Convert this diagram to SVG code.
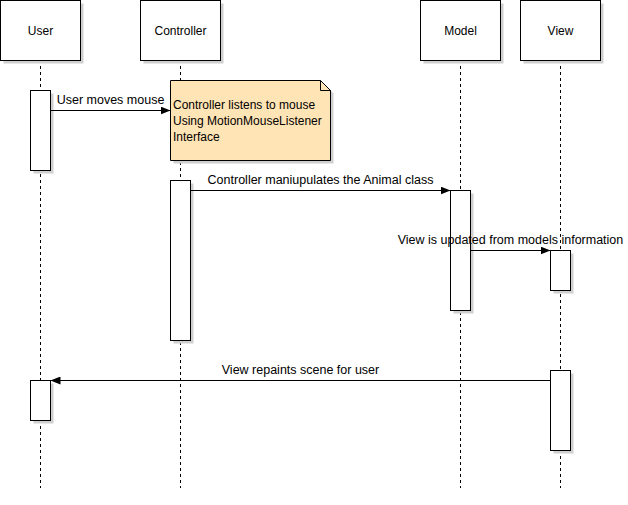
<svg xmlns="http://www.w3.org/2000/svg" width="628" height="505" viewBox="0 0 628 505">
<style>
text{font-family:"Liberation Sans",Arial,sans-serif;font-size:12px;fill:#000}
.c{text-anchor:middle}
.lbl{font-size:12.5px}
.box{fill:#fff;stroke:#000;stroke-width:1}
.sh{fill:#cfcfcf}
.life{stroke:#000;stroke-width:1;stroke-dasharray:3 3;fill:none}
.msg{stroke:#000;stroke-width:1;fill:none;marker-end:url(#arr)}
</style>
<defs>
<marker id="arr" viewBox="0 0 10 8" refX="10" refY="4" markerWidth="10" markerHeight="8" markerUnits="userSpaceOnUse" orient="auto">
<path d="M0,0 L10,4 L0,8 z" fill="#000"/>
</marker>
</defs>
<g id="lifelines">
<line class="life" x1="40.5" y1="60" x2="40.5" y2="488"/>
<line class="life" x1="180.5" y1="60" x2="180.5" y2="488"/>
<line class="life" x1="460.5" y1="60" x2="460.5" y2="488"/>
<line class="life" x1="560.5" y1="60" x2="560.5" y2="488"/>
</g>
<g id="user">
<rect class="sh" x="3.5" y="3.5" width="80" height="60"/>
<rect class="box" x="0.5" y="0.5" width="80" height="60"/>
<text class="c" x="40.5" y="34.5">User</text>
</g>
<g id="controller">
<rect class="sh" x="143.5" y="3.5" width="80" height="60"/>
<rect class="box" x="140.5" y="0.5" width="80" height="60"/>
<text class="c" x="180.5" y="34.5">Controller</text>
</g>
<g id="model">
<rect class="sh" x="423.5" y="3.5" width="80" height="60"/>
<rect class="box" x="420.5" y="0.5" width="80" height="60"/>
<text class="c" x="460.5" y="34.5">Model</text>
</g>
<g id="view">
<rect class="sh" x="523.5" y="3.5" width="80" height="60"/>
<rect class="box" x="520.5" y="0.5" width="80" height="60"/>
<text class="c" x="560.5" y="34.5">View</text>
</g>
<g id="user-act1">
<rect class="sh" x="33.5" y="93.5" width="20" height="80"/>
<rect class="box" x="30.5" y="90.5" width="20" height="80"/>
</g>
<g id="user-act2">
<rect class="sh" x="33.5" y="383.5" width="20" height="40"/>
<rect class="box" x="30.5" y="380.5" width="20" height="40"/>
</g>
<g id="controller-act">
<rect class="sh" x="173.5" y="183.5" width="20" height="160"/>
<rect class="box" x="170.5" y="180.5" width="20" height="160"/>
</g>
<g id="model-act">
<rect class="sh" x="453.5" y="193.5" width="20" height="120"/>
<rect class="box" x="450.5" y="190.5" width="20" height="120"/>
</g>
<g id="view-act1">
<rect class="sh" x="553.5" y="253.5" width="20" height="40"/>
<rect class="box" x="550.5" y="250.5" width="20" height="40"/>
</g>
<g id="view-act2">
<rect class="sh" x="553.5" y="373.5" width="20" height="80"/>
<rect class="box" x="550.5" y="370.5" width="20" height="80"/>
</g>
<g id="note">
<path d="M173.5,83.5 H323.5 L333.5,93.5 V163.5 H173.5 Z" fill="#cfcfcf"/>
<path d="M170.5,80.5 H320.5 L330.5,90.5 V160.5 H170.5 Z" fill="#ffe4b5" stroke="#000"/>
<path d="M320.5,80.5 V90.5 H330.5" fill="none" stroke="#000"/>
<text x="173" y="109">Controller listens to mouse</text>
<text x="173" y="125">Using MotionMouseListener</text>
<text x="173" y="141">Interface</text>
</g>
<g id="connectors">
<line class="msg" x1="50.5" y1="110.5" x2="170.5" y2="110.5"/>
<text class="c lbl" x="110.5" y="104">User moves mouse</text>
<line class="msg" x1="190.5" y1="190.5" x2="450.5" y2="190.5"/>
<text class="c lbl" x="320.5" y="184">Controller maniupulates the Animal class</text>
<line class="msg" x1="470.5" y1="250.5" x2="550.5" y2="250.5"/>
<text class="c lbl" x="510.5" y="244">View is updated from models information</text>
<line class="msg" x1="550.5" y1="380.5" x2="50.5" y2="380.5"/>
<text class="c lbl" x="300.5" y="374">View repaints scene for user</text>
</g>
</svg>
